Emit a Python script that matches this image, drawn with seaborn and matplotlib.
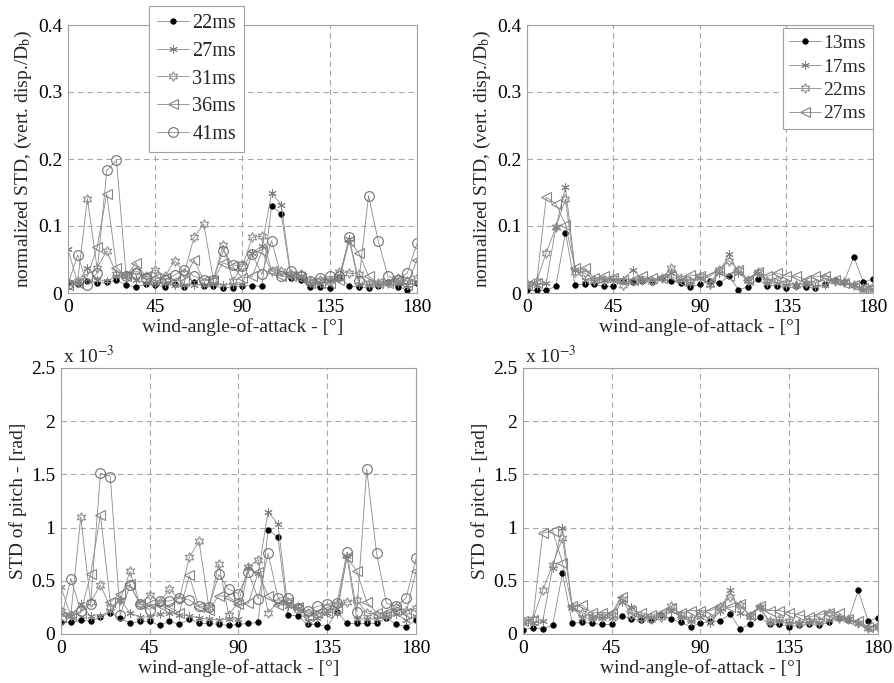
import numpy as np
import pandas as pd
import matplotlib
matplotlib.use("Agg")
import matplotlib.pyplot as plt
from matplotlib.ticker import FuncFormatter
import seaborn as sns

# wind angle of attack, degrees
angles = list(range(0, 181, 5))

# --- normalized STD of vertical displacement, set A ---
disp_a_labels = ["22ms", "27ms", "31ms", "36ms", "41ms"]
disp_a_22 = [0.015, 0.013, 0.018, 0.015, 0.016, 0.019, 0.012, 0.009, 0.013, 0.012, 0.009, 0.014, 0.009,
             0.016, 0.010, 0.010, 0.008, 0.008, 0.011, 0.011, 0.010, 0.130, 0.118, 0.022, 0.020, 0.009,
             0.009, 0.007, 0.024, 0.010, 0.009, 0.008, 0.010, 0.016, 0.009, 0.005, 0.015]
disp_a_27 = [0.065, 0.015, 0.038, 0.020, 0.018, 0.025, 0.025, 0.020, 0.015, 0.015, 0.015, 0.012, 0.012,
             0.012, 0.012, 0.013, 0.012, 0.013, 0.013, 0.060, 0.070, 0.149, 0.132, 0.025, 0.025, 0.015,
             0.015, 0.020, 0.022, 0.080, 0.013, 0.012, 0.012, 0.015, 0.015, 0.012, 0.015]
disp_a_31 = [0.015, 0.018, 0.141, 0.037, 0.063, 0.028, 0.027, 0.033, 0.025, 0.035, 0.025, 0.048, 0.030,
             0.083, 0.103, 0.020, 0.072, 0.018, 0.040, 0.083, 0.085, 0.033, 0.033, 0.028, 0.028, 0.018,
             0.020, 0.020, 0.032, 0.030, 0.028, 0.015, 0.015, 0.015, 0.022, 0.018, 0.022]
disp_a_36 = [0.012, 0.015, 0.025, 0.068, 0.148, 0.038, 0.025, 0.045, 0.025, 0.022, 0.022, 0.018, 0.018,
             0.050, 0.018, 0.020, 0.045, 0.040, 0.022, 0.025, 0.062, 0.033, 0.025, 0.025, 0.022, 0.015,
             0.015, 0.015, 0.020, 0.078, 0.060, 0.025, 0.015, 0.015, 0.020, 0.012, 0.050]
disp_a_41 = [0.013, 0.057, 0.012, 0.030, 0.183, 0.198, 0.025, 0.030, 0.023, 0.018, 0.020, 0.027, 0.035,
             0.025, 0.020, 0.020, 0.063, 0.042, 0.040, 0.058, 0.028, 0.078, 0.025, 0.033, 0.025, 0.018,
             0.022, 0.025, 0.025, 0.083, 0.018, 0.145, 0.078, 0.025, 0.020, 0.030, 0.074]

# --- normalized STD of vertical displacement, set B ---
disp_b_labels = ["13ms", "17ms", "22ms", "27ms"]
disp_b_13 = [0.004, 0.004, 0.004, 0.010, 0.090, 0.012, 0.013, 0.013, 0.010, 0.010, 0.018, 0.017, 0.018,
             0.016, 0.022, 0.018, 0.015, 0.009, 0.013, 0.018, 0.015, 0.025, 0.005, 0.009, 0.021, 0.011,
             0.011, 0.007, 0.010, 0.009, 0.007, 0.013, 0.019, 0.017, 0.054, 0.016, 0.021]
disp_b_17 = [0.010, 0.012, 0.015, 0.098, 0.158, 0.035, 0.020, 0.018, 0.020, 0.020, 0.020, 0.035, 0.020,
             0.020, 0.022, 0.030, 0.020, 0.015, 0.022, 0.012, 0.030, 0.058, 0.030, 0.018, 0.030, 0.015,
             0.015, 0.012, 0.012, 0.015, 0.010, 0.012, 0.018, 0.017, 0.012, 0.005, 0.005]
disp_b_22 = [0.013, 0.018, 0.060, 0.098, 0.140, 0.032, 0.030, 0.020, 0.020, 0.022, 0.012, 0.018, 0.020,
             0.018, 0.022, 0.038, 0.022, 0.018, 0.025, 0.013, 0.035, 0.048, 0.035, 0.020, 0.032, 0.018,
             0.020, 0.015, 0.012, 0.015, 0.015, 0.022, 0.018, 0.017, 0.012, 0.007, 0.007]
disp_b_27 = [0.012, 0.015, 0.143, 0.133, 0.102, 0.037, 0.037, 0.022, 0.025, 0.022, 0.020, 0.020, 0.025,
             0.022, 0.022, 0.025, 0.018, 0.027, 0.025, 0.025, 0.035, 0.025, 0.035, 0.020, 0.032, 0.025,
             0.030, 0.025, 0.025, 0.020, 0.025, 0.025, 0.020, 0.015, 0.012, 0.007, 0.010]

# --- STD of pitch [x 1e-3 rad], set A ---
pitch_a_22 = [0.11, 0.11, 0.13, 0.12, 0.16, 0.20, 0.15, 0.10, 0.12, 0.12, 0.08, 0.12, 0.09, 0.14, 0.10,
              0.10, 0.09, 0.08, 0.09, 0.10, 0.11, 0.98, 0.91, 0.18, 0.17, 0.09, 0.09, 0.07, 0.21, 0.10,
              0.10, 0.10, 0.10, 0.15, 0.09, 0.07, 0.13]
pitch_a_27 = [0.44, 0.17, 0.28, 0.17, 0.17, 0.22, 0.32, 0.20, 0.16, 0.16, 0.19, 0.20, 0.18, 0.17, 0.15,
              0.14, 0.13, 0.14, 0.14, 0.62, 0.57, 1.15, 1.03, 0.26, 0.24, 0.12, 0.15, 0.20, 0.20, 0.73,
              0.14, 0.14, 0.14, 0.16, 0.19, 0.13, 0.17]
pitch_a_31 = [0.22, 0.18, 1.10, 0.30, 0.46, 0.25, 0.32, 0.59, 0.28, 0.37, 0.30, 0.42, 0.33, 0.72, 0.87,
              0.25, 0.66, 0.18, 0.30, 0.63, 0.70, 0.20, 0.30, 0.30, 0.25, 0.20, 0.18, 0.25, 0.28, 0.30,
              0.32, 0.20, 0.18, 0.18, 0.25, 0.22, 0.24]
pitch_a_36 = [0.16, 0.18, 0.20, 0.56, 1.12, 0.30, 0.38, 0.47, 0.28, 0.28, 0.27, 0.25, 0.20, 0.55, 0.25,
              0.23, 0.36, 0.35, 0.28, 0.29, 0.58, 0.36, 0.27, 0.30, 0.25, 0.17, 0.20, 0.20, 0.24, 0.72,
              0.59, 0.30, 0.20, 0.20, 0.23, 0.20, 0.59]
pitch_a_41 = [0.14, 0.52, 0.22, 0.28, 1.51, 1.48, 0.18, 0.46, 0.28, 0.23, 0.31, 0.31, 0.34, 0.32, 0.26,
              0.25, 0.56, 0.42, 0.38, 0.58, 0.33, 0.76, 0.34, 0.34, 0.24, 0.22, 0.26, 0.28, 0.29, 0.77,
              0.21, 1.55, 0.76, 0.29, 0.26, 0.34, 0.71]

# --- STD of pitch [x 1e-3 rad], set B ---
pitch_b_13 = [0.04, 0.06, 0.05, 0.08, 0.57, 0.10, 0.11, 0.10, 0.09, 0.09, 0.17, 0.14, 0.13, 0.13, 0.18,
              0.14, 0.11, 0.07, 0.10, 0.12, 0.12, 0.19, 0.05, 0.09, 0.16, 0.09, 0.09, 0.07, 0.08, 0.09,
              0.08, 0.11, 0.15, 0.13, 0.41, 0.12, 0.15]
pitch_b_17 = [0.10, 0.10, 0.12, 0.62, 1.00, 0.25, 0.15, 0.15, 0.15, 0.15, 0.30, 0.25, 0.17, 0.16, 0.18,
              0.22, 0.16, 0.12, 0.16, 0.10, 0.22, 0.41, 0.20, 0.16, 0.25, 0.10, 0.12, 0.10, 0.10, 0.11,
              0.10, 0.13, 0.15, 0.14, 0.10, 0.06, 0.07]
pitch_b_22 = [0.12, 0.14, 0.41, 0.65, 0.90, 0.25, 0.20, 0.16, 0.17, 0.18, 0.33, 0.18, 0.15, 0.14, 0.16,
              0.26, 0.18, 0.14, 0.19, 0.14, 0.25, 0.35, 0.27, 0.17, 0.25, 0.12, 0.14, 0.12, 0.10, 0.12,
              0.12, 0.20, 0.15, 0.14, 0.10, 0.06, 0.07]
pitch_b_27 = [0.12, 0.13, 0.95, 0.97, 0.67, 0.26, 0.27, 0.20, 0.20, 0.20, 0.35, 0.22, 0.20, 0.18, 0.20,
              0.24, 0.20, 0.22, 0.22, 0.22, 0.26, 0.25, 0.28, 0.18, 0.26, 0.22, 0.22, 0.20, 0.18, 0.16,
              0.18, 0.20, 0.20, 0.14, 0.12, 0.07, 0.08]

x_ticks = [0, 45, 90, 135, 180]
disp_ticks = [0, 0.1, 0.2, 0.3, 0.4]
pitch_ticks = [0, 0.5e-3, 1.0e-3, 1.5e-3, 2.0e-3, 2.5e-3]

sns.set_style("white")
plt.rcParams["font.family"] = ["Liberation Serif", "DejaVu Serif"]
plt.rcParams["mathtext.fontset"] = "stix"

LINE = "#8a8a8a"
# marker, size, face, edge for each series slot
STYLES = [
    dict(marker="o", ms=4.0, mfc="black", mec="black", mew=0.5),
    dict(marker=(6, 2, 0), ms=6.0, mfc="none", mec="#808080", mew=0.7),
    dict(marker=(6, 1, 0), ms=7.0, mfc="none", mec="#8f8f8f", mew=0.8),
    dict(marker="<", ms=7.0, mfc="none", mec="#858585", mew=0.8),
    dict(marker="o", ms=7.0, mfc="none", mec="#707070", mew=0.8),
]
STYLES_B = [STYLES[0], STYLES[1], STYLES[2], STYLES[3]]

FS = 14

fig = plt.figure(figsize=(8.95, 6.83), dpi=100)
W, H = 895, 683


def axes_px(l, t, r, b):
    return fig.add_axes([l / W, 1 - b / H, (r - l) / W, (b - t) / H])


ax_tl = axes_px(68, 25, 417, 293)
ax_tr = axes_px(527, 25, 873, 293)
ax_bl = axes_px(61, 368, 416, 634)
ax_br = axes_px(523, 368, 878, 634)


def draw(ax, series, labels, styles, scale=1.0):
    for vals, lab, st in zip(series, labels, styles):
        df = pd.DataFrame({"angle": angles, "value": np.asarray(vals) * scale})
        sns.lineplot(data=df, x="angle", y="value", ax=ax, color=LINE, lw=0.6,
                     label=lab, sort=False, **st)


def style_axes(ax, yticks, ylabel, fmt):
    ax.set_xlim(0, 180)
    ax.set_ylim(yticks[0], yticks[-1])
    ax.set_xticks(x_ticks)
    ax.set_yticks(yticks)
    ax.yaxis.set_major_formatter(FuncFormatter(fmt))
    ax.grid(True, color="#a8a8a8", linestyle=(0, (5, 3.5)), linewidth=0.8)
    for sp in ax.spines.values():
        sp.set_color("#a0a0a0")
        sp.set_linewidth(0.8)
    ax.tick_params(length=0, labelsize=FS, pad=4, colors="black")
    ax.set_xlabel("wind-angle-of-attack - [°]", fontsize=FS, labelpad=2)
    ax.set_ylabel(ylabel, fontsize=FS, labelpad=3)


disp_fmt = lambda v, p: "0" if abs(v) < 1e-12 else f"{v:.1f}"
pitch_fmt = lambda v, p: f"{v * 1e3:g}"

draw(ax_tl, [disp_a_22, disp_a_27, disp_a_31, disp_a_36, disp_a_41], disp_a_labels, STYLES)
draw(ax_tr, [disp_b_13, disp_b_17, disp_b_22, disp_b_27], disp_b_labels, STYLES_B)
draw(ax_bl, [pitch_a_22, pitch_a_27, pitch_a_31, pitch_a_36, pitch_a_41], disp_a_labels, STYLES, 1e-3)
draw(ax_br, [pitch_b_13, pitch_b_17, pitch_b_22, pitch_b_27], disp_b_labels, STYLES_B, 1e-3)

disp_label = "normalized STD, (vert. disp./D$_\\mathrm{b}$)"
for ax in (ax_tl, ax_tr):
    style_axes(ax, disp_ticks, disp_label, disp_fmt)
for ax in (ax_bl, ax_br):
    style_axes(ax, pitch_ticks, "STD of pitch - [rad]", pitch_fmt)
    ax.text(0.005, 1.005, "x 10$^{-3}$", transform=ax.transAxes, fontsize=FS,
            ha="left", va="bottom")

leg_kw = dict(frameon=True, fancybox=False, framealpha=1,
              edgecolor="#a0a0a0", handlelength=1.6, handletextpad=0.15,
              borderaxespad=0.0)
lg = ax_tl.legend(loc="upper left", bbox_to_anchor=(0.232, 1.07), fontsize=FS + 0.5,
                  labelspacing=0.42, borderpad=0.4, **leg_kw)
lg.get_frame().set_linewidth(0.8)
lg2 = ax_tr.legend(loc="upper right", bbox_to_anchor=(1.0, 0.99), fontsize=FS,
                   labelspacing=0.3, borderpad=0.35, **leg_kw)
lg2.get_frame().set_linewidth(0.8)
for ax in (ax_bl, ax_br):
    if ax.get_legend() is not None:
        ax.get_legend().remove()

fig.savefig("out.png", dpi=100)
